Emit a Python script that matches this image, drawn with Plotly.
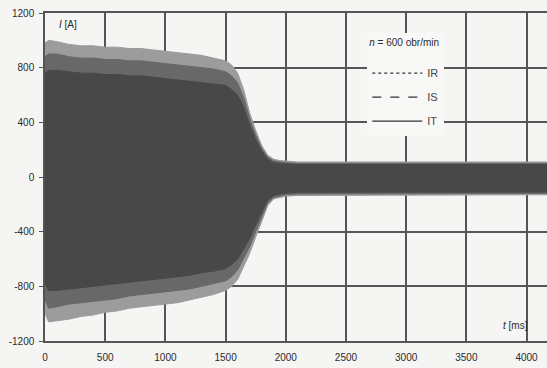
import plotly.graph_objects as go

# time axis [ms] at which the current envelopes were read
t_ms = [0, 30, 100, 200, 300, 400, 500, 600, 700, 800, 900, 1000, 1100, 1200, 1300,
        1400, 1500, 1550, 1600, 1650, 1700, 1750, 1800, 1850, 1900, 1950, 2000,
        2100, 2500, 3000, 3500, 4000, 4170]

# peak envelopes of the phase currents [A]
IR_hi = [980, 1000, 990, 970, 960, 960, 950, 950, 940, 940, 930, 920, 910, 900, 890,
         870, 850, 820, 760, 640, 470, 340, 230, 160, 130, 120, 115,
         110, 110, 110, 110, 110, 110]
IR_lo = [-1000, -1060, -1050, -1040, -1020, -1010, -990, -980, -960, -950, -940, -930, -920, -900, -880,
         -860, -830, -800, -750, -660, -560, -440, -320, -210, -160, -150, -140,
         -135, -135, -130, -130, -130, -130]
IS_hi = [880, 900, 900, 880, 870, 870, 860, 860, 850, 850, 840, 830, 820, 810, 800,
         790, 770, 740, 690, 580, 430, 310, 210, 145, 118, 110, 105,
         100, 100, 100, 100, 100, 100]
IS_lo = [-900, -960, -950, -930, -920, -910, -900, -890, -870, -860, -850, -840, -830, -820, -800,
         -780, -760, -730, -680, -600, -510, -400, -290, -190, -150, -138, -130,
         -125, -125, -120, -120, -120, -120]
IT_hi = [760, 780, 780, 770, 760, 760, 750, 750, 740, 740, 730, 720, 710, 700, 690,
         680, 670, 640, 600, 510, 380, 275, 190, 130, 105, 98, 95,
         92, 92, 92, 92, 92, 92]
IT_lo = [-780, -830, -830, -820, -810, -800, -790, -780, -770, -760, -750, -740, -730, -720, -700,
         -690, -670, -640, -600, -530, -450, -350, -255, -170, -135, -125, -118,
         -112, -112, -110, -110, -110, -110]

series = [
    ("IR", IR_hi, IR_lo, "#9c9c9c", "dot"),
    ("IS", IS_hi, IS_lo, "#686868", "dash"),
    ("IT", IT_hi, IT_lo, "#484848", "solid"),
]

x_ticks = [0, 500, 1000, 1500, 2000, 2500, 3000, 3500, 4000]
y_ticks = [-1200, -800, -400, 0, 400, 800, 1200]
y_ticktext = ["-1200", "-800", "-400", "0", "400", "800", "1200"]

bg = "#f5f5f4"
fig = go.Figure()
for name, hi, lo, col, dash in series:
    fig.add_trace(go.Scatter(
        x=t_ms + t_ms[::-1], y=hi + lo[::-1],
        fill="toself", fillcolor=col, mode="lines",
        line=dict(color=col, width=1), showlegend=False, hoverinfo="skip"))
for name, hi, lo, col, dash in series:
    fig.add_trace(go.Scatter(
        x=[None], y=[None], mode="lines", name=name, legendgroup=name,
        line=dict(color="#333333", width=1.2, dash=dash)))

font = "Liberation Sans, Arial, sans-serif"
fig.update_layout(
    width=547, height=368,
    margin=dict(l=45, r=0, t=13, b=27),
    paper_bgcolor=bg, plot_bgcolor=bg,
    font=dict(family=font, size=10, color="#2a2a2a"),
    showlegend=True,
    legend=dict(
        x=0.642, y=0.94, xanchor="left", yanchor="top",
        bgcolor="#f8f8f7", borderwidth=0,
        title=dict(text="<i>n</i> = 600 obr/min<br> ", side="top",
                   font=dict(size=10, color="#2a2a2a")),
        font=dict(size=11, color="#444444"),
        itemwidth=50, traceorder="grouped", tracegroupgap=5,
    ),
    xaxis=dict(range=[0, 4170], tickvals=x_ticks, showgrid=True,
               gridcolor="#555555", gridwidth=1.5, zeroline=False,
               showline=True, linecolor="#555555", linewidth=1.5, mirror=True,
               ticks="", ticklabelstandoff=6,
               tickfont=dict(size=10, color="#2a2a2a")),
    yaxis=dict(range=[-1200, 1200], tickvals=y_ticks, ticktext=y_ticktext,
               showgrid=True, gridcolor="#555555", gridwidth=1.5, zeroline=False,
               showline=True, linecolor="#555555", linewidth=1.5,
               ticks="outside", ticklen=4, tickcolor="#555555",
               ticklabelstandoff=3, tickfont=dict(size=10, color="#2a2a2a")),
    annotations=[
        dict(x=100, y=1115, text="<i>I</i> [A]", showarrow=False,
             xanchor="left", yanchor="middle", font=dict(size=10, color="#2a2a2a"),
             bgcolor=bg),
        dict(x=3790, y=-1085, text="<i>t</i> [ms]", showarrow=False,
             xanchor="left", yanchor="middle", font=dict(size=10, color="#2a2a2a")),
    ],
)

fig.write_html("out.html")
